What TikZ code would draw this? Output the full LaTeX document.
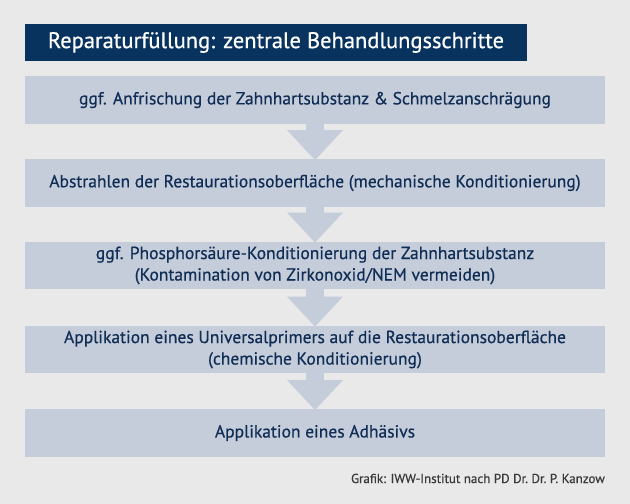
\documentclass[tikz,border=0pt]{standalone}
\usepackage{fontspec}
\setmainfont[FakeBold=0.6]{PT Sans}
\usetikzlibrary{arrows.meta}
\definecolor{pagebg}{HTML}{E9E9E9}
\definecolor{titlebg}{HTML}{08335F}
\definecolor{boxbg}{HTML}{C5CCDA}
\definecolor{boxtext}{HTML}{102E55}
\definecolor{credittext}{HTML}{3A3A3A}
\tikzset{
  titlebox/.style={fill=titlebg,text=white,minimum width=502pt,minimum height=37pt,
    inner sep=0pt,font=\fontsize{22.5}{26}\selectfont},
  stepbox/.style={fill=boxbg,text=boxtext,minimum width=580pt,minimum height=47.5pt,
    inner sep=0pt,align=center,font=\fontsize{17.5}{21.5}\selectfont},
  flowarrow/.style={draw=boxbg,line width=18pt,
    -{Triangle[width=56pt,length=30pt,line width=0pt]}}
}
\begin{document}
\begin{tikzpicture}[x=1pt,y=-1pt]
  \fill[pagebg] (0,0) rectangle (630,504);
  \useasboundingbox (0,0) rectangle (630,504);
  \node[titlebox] (title) at (276,42.5) {Reparaturfüllung: zentrale Behandlungsschritte};
  \node[stepbox] (s1) at (315,100) {ggf. Anfrischung der Zahnhartsubstanz \& Schmelzanschrägung};
  \node[stepbox] (s2) at (315,183) {Abstrahlen der Restaurationsoberfläche (mechanische Konditionierung)};
  \node[stepbox] (s3) at (315,265.5) {ggf. Phosphorsäure-Konditionierung der Zahnhartsubstanz\\(Kontamination von Zirkonoxid/NEM vermeiden)};
  \node[stepbox] (s4) at (315,349.5) {Applikation eines Universalprimers auf die Restaurationsoberfläche\\(chemische Konditionierung)};
  \node[stepbox] (s5) at (315,433) {Applikation eines Adhäsivs};
  \node[anchor=base east,text=credittext,inner sep=0pt,font=\fontsize{13}{15}\selectfont] (credit) at (605,483) {Grafik: IWW-Institut nach PD Dr.\ Dr.\ P.\ Kanzow};
  \draw[flowarrow] (s1.south) -- ([yshift=-1pt]s2.north);
  \draw[flowarrow] (s2.south) -- ([yshift=-1pt]s3.north);
  \draw[flowarrow] (s3.south) -- ([yshift=-1pt]s4.north);
  \draw[flowarrow] (s4.south) -- ([yshift=-1pt]s5.north);
\end{tikzpicture}
\end{document}
